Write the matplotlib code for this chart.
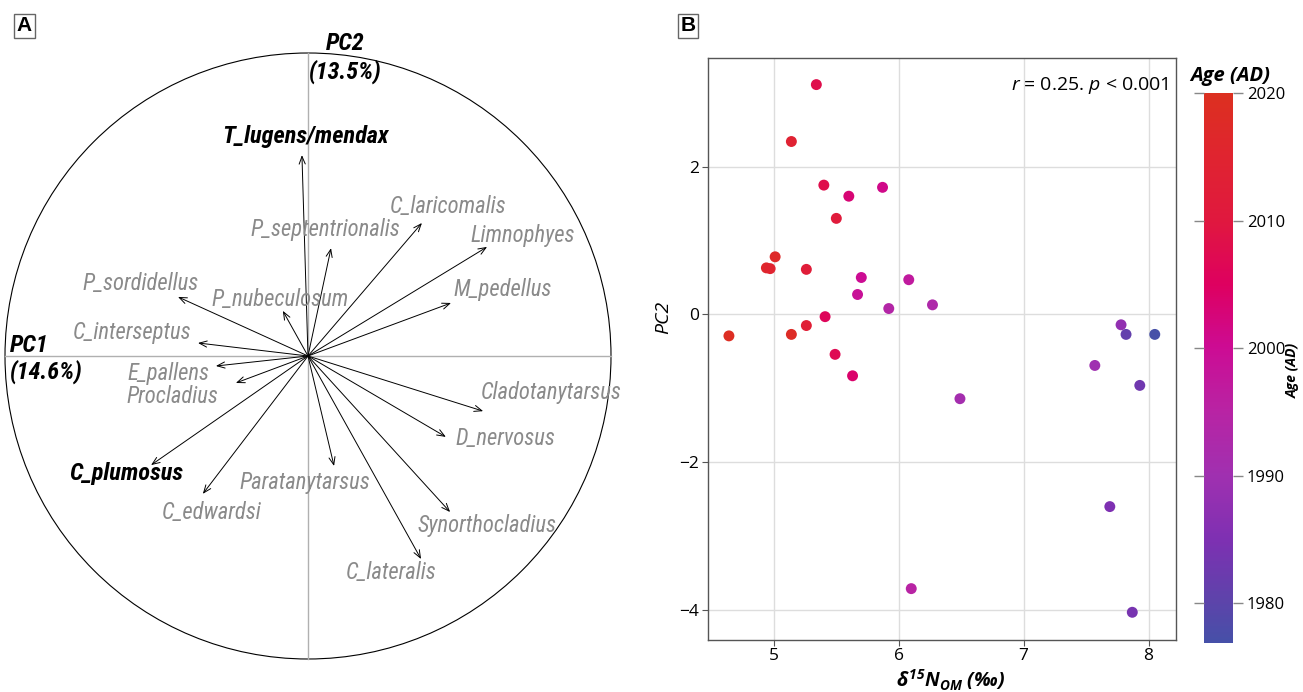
import matplotlib
matplotlib.use("Agg")
import matplotlib.pyplot as plt
import numpy as np
from matplotlib.patches import Circle
from matplotlib.colors import LinearSegmentedColormap, Normalize

# ---------------- Panel A data (loadings, unit circle) ----------------
species = ["T_lugens/mendax", "P_septentrionalis", "C_laricomalis", "Limnophyes",
           "M_pedellus", "P_nubeculosum", "P_sordidellus", "C_interseptus",
           "E_pallens", "Procladius", "C_plumosus", "C_edwardsi",
           "Paratanytarsus", "C_lateralis", "Synorthocladius", "D_nervosus",
           "Cladotanytarsus"]
pc1_load = [-0.020, 0.076, 0.376, 0.591, 0.472, -0.083, -0.429, -0.363,
            -0.304, -0.238, -0.518, -0.347, 0.086, 0.373, 0.469, 0.455, 0.578]
pc2_load = [0.663, 0.356, 0.439, 0.360, 0.175, 0.149, 0.195, 0.043,
            -0.033, -0.089, -0.360, -0.455, -0.363, -0.670, -0.515, -0.267, -0.182]
label_x = [-0.007, 0.056, 0.462, 0.710, 0.644, -0.092, -0.551, -0.581,
           -0.459, -0.446, -0.601, -0.317, -0.010, 0.274, 0.591, 0.650, 0.802]
label_y = [0.723, 0.419, 0.495, 0.399, 0.221, 0.188, 0.238, 0.076,
           -0.059, -0.135, -0.389, -0.518, -0.416, -0.713, -0.561, -0.271, -0.119]
highlight = ["T_lugens/mendax", "C_plumosus"]

# ---------------- Panel B data ----------------
d15N = [5.34, 5.14, 5.40, 5.60, 5.87, 5.50, 5.01, 4.94, 4.97, 5.26, 5.70, 6.08,
        5.67, 5.92, 6.27, 5.41, 5.26, 5.14, 4.64, 5.49, 7.78, 7.82, 8.05,
        5.63, 7.57, 7.93, 6.49, 7.69, 6.10, 7.87]
pc2 = [3.11, 2.34, 1.75, 1.60, 1.72, 1.30, 0.78, 0.63, 0.62, 0.61, 0.50, 0.47,
       0.27, 0.08, 0.13, -0.03, -0.15, -0.27, -0.29, -0.54, -0.14, -0.27, -0.27,
       -0.83, -0.69, -0.96, -1.14, -2.60, -3.71, -4.03]
age = [2008, 2014, 2008, 2003, 2001, 2011, 2017, 2016, 2015, 2012, 2000, 1997,
       1999, 1994, 1993, 2006, 2013, 2018, 2019, 2007, 1988, 1981, 1977,
       2004, 1990, 1983, 1991, 1985, 1995, 1984]

cb_years = [1976.9, 1980, 1985, 1990, 1995, 2000, 2005, 2010, 2015, 2020]
cb_colors = ["#4650A8", "#5C44AA", "#7E30B2", "#A030B0", "#B824A4",
             "#CC0C94", "#DE0060", "#E0183F", "#E02430", "#DC3020"]

narrow = ["Roboto Condensed", "Roboto", "DejaVu Sans"]
sans = ["Open Sans", "DejaVu Sans"]
plt.rcParams['font.family'] = sans
plt.rcParams['mathtext.fontset'] = 'custom'
plt.rcParams['mathtext.it'] = 'Open Sans:italic:bold'
plt.rcParams['mathtext.rm'] = 'Open Sans:italic:bold'
plt.rcParams['mathtext.bf'] = 'Open Sans:italic:bold'
plt.rcParams['mathtext.sf'] = 'Open Sans:italic'
plt.rcParams['axes.unicode_minus'] = True

W, H = 1303, 692
fig = plt.figure(figsize=(W / 100, H / 100), dpi=100)

# ---------------- Panel A ----------------
cx, cy, R = 308, 356, 303
axA = fig.add_axes([0, 0, 650 / W, 1])
axA.set_xlim((0 - cx) / R, (650 - cx) / R)
axA.set_ylim((cy - H) / R, cy / R)
axA.axis('off')
axA.add_patch(Circle((0, 0), 1, fill=False, ec='black', lw=0.8))
axA.plot([-1, 1], [0, 0], color='#b0b0b0', lw=1.0, zorder=1)
axA.plot([0, 0], [-1, 1], color='#b0b0b0', lw=1.0, zorder=1)
for name, x, y, lx, ly in zip(species, pc1_load, pc2_load, label_x, label_y):
    axA.annotate("", xy=(x, y), xytext=(0, 0),
                 arrowprops=dict(arrowstyle='->,head_length=0.55,head_width=0.22',
                                 color='black', lw=0.7, shrinkA=0, shrinkB=0))
    hl = name in highlight
    axA.text(lx, ly, name, ha='center', va='center', family=narrow,
             fontsize=17.5 if hl else 16.3, style='italic',
             fontweight='bold' if hl else 'normal',
             color='black' if hl else '#8a8a8a')
axA.text((345 - cx) / R, (cy - 43) / R, "PC2", ha='center', va='center',
         family=narrow, fontsize=17.5, style='italic', fontweight='bold')
axA.text((345 - cx) / R, (cy - 72) / R, "(13.5%)", ha='center', va='center',
         family=narrow, fontsize=17.5, style='italic', fontweight='bold')
axA.text((10 - cx) / R, (cy - 345) / R, "PC1", ha='left', va='center',
         family=narrow, fontsize=17.5, style='italic', fontweight='bold')
axA.text((10 - cx) / R, (cy - 372) / R, "(14.6%)", ha='left', va='center',
         family=narrow, fontsize=17.5, style='italic', fontweight='bold')

# panel letters
for letter, px in [("A", 24.5), ("B", 688)]:
    fig.text(px / W, 1 - 25.5 / H, letter, ha='center', va='center',
             fontsize=15, fontweight='bold', family=["Liberation Sans", "DejaVu Sans"],
             bbox=dict(boxstyle='square,pad=0.12', fc='white', ec='#666666', lw=1))

# ---------------- Panel B ----------------
cmap = LinearSegmentedColormap.from_list(
    "age", [((y - cb_years[0]) / (cb_years[-1] - cb_years[0]), c)
            for y, c in zip(cb_years, cb_colors)])
norm = Normalize(vmin=cb_years[0], vmax=cb_years[-1])

axB = fig.add_axes([707.7 / W, (H - 640) / H, (1176 - 707.7) / W, (640 - 58) / H])
axB.set_xlim(4.47, 8.22)
axB.set_ylim(-4.405, 3.47)
axB.grid(True, color='#dddddd', lw=1.0)
axB.set_axisbelow(True)
sc = axB.scatter(d15N, pc2, c=age, cmap=cmap, norm=norm, s=62, edgecolors='none', zorder=3)
axB.set_xticks([5, 6, 7, 8])
axB.set_yticks([-4, -2, 0, 2])
for sp in axB.spines.values():
    sp.set_color('#555555')
    sp.set_linewidth(1.0)
axB.tick_params(colors='#555555', labelcolor='black', labelsize=12.5, length=4,
                width=0.8, pad=2)
axB.set_xlabel(r"$\delta^{15}N_{OM}$ (‰)", fontsize=14, style='italic',
               fontweight='bold', labelpad=0)
axB.xaxis.set_label_coords(0.518, -0.048)
axB.xaxis.label.set_va('top')
axB.set_ylabel("PC2", fontsize=14, style='italic', labelpad=2)
axB.yaxis.set_label_coords(-0.075, 0.555)
axB.text(0.985, 0.97, r"$\mathsf{r}$ = 0.25. $\mathsf{p}$ < 0.001", transform=axB.transAxes,
         ha='right', va='top', fontsize=14)

# colorbar
cax = fig.add_axes([1204 / W, (H - 643) / H, 29 / W, 550 / H])
cb = fig.colorbar(sc, cax=cax)
cb.set_ticks([1980, 1990, 2000, 2010, 2020])
cb.outline.set_visible(False)
cax.yaxis.set_ticks_position('both')
cax.tick_params(axis='y', direction='out', length=7, width=1, colors='#888888',
                labelcolor='black', labelsize=12, pad=3, labelleft=False, labelright=True)
cax.text(0.9, 1.012, "Age (AD)", transform=cax.transAxes, ha='center', va='bottom',
         fontsize=14.5, style='italic', fontweight='bold')
fig.text(1293 / W, 1 - 370 / H, "Age (AD)", rotation=90, ha='center', va='center',
         fontsize=10, style='italic', fontweight='bold')

fig.savefig("out.png", dpi=100)
